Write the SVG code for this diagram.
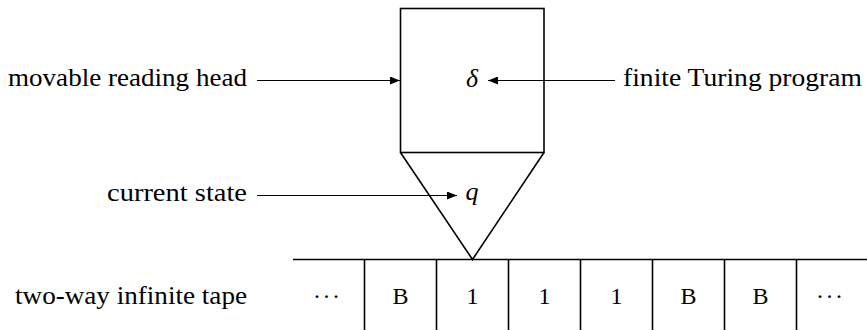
<svg xmlns="http://www.w3.org/2000/svg" width="867" height="330" viewBox="0 0 867 330">
<style>
.lbl{font-family:"Liberation Serif","Times New Roman",serif;font-size:26px;fill:#000}
.cell{font-family:"Liberation Serif","Times New Roman",serif;font-size:24px;fill:#000;text-anchor:middle}
.dots{font-family:"Liberation Serif","Times New Roman",serif;font-size:24px;fill:#000}
.math{font-family:"Liberation Serif","Times New Roman",serif;font-size:26px;font-style:italic;fill:#000;text-anchor:middle}
.thick{fill:none;stroke:#000;stroke-width:1.6}
.arr{fill:none;stroke:#000;stroke-width:1.1;marker-end:url(#ah)}
</style>
<defs>
<marker id="ah" viewBox="0 0 10 8" refX="10" refY="4" markerWidth="10" markerHeight="8" markerUnits="userSpaceOnUse" orient="auto">
<path d="M0,0 L10,4 L0,8 Z" fill="#000"/>
</marker>
</defs>
<rect width="867" height="330" fill="#fff"/>
<g id="head">
<rect class="thick" x="400.5" y="8.5" width="143.5" height="144"/>
<text class="math" x="472" y="87">δ</text>
</g>
<g id="state">
<path class="thick" d="M400.5,152.5 L472.5,259.5 L544,152.5"/>
<text class="math" x="472" y="200">q</text>
</g>
<g id="tape">
<path class="thick" d="M293,259.5 H867 M364.5,259.5 V330 M436.5,259.5 V330 M508.5,259.5 V330 M580.5,259.5 V330 M652.5,259.5 V330 M724.5,259.5 V330 M796.5,259.5 V330"/>
<text class="dots" x="313" y="303.5" textLength="27" lengthAdjust="spacing">· · ·</text>
<text class="cell" x="400.5" y="304">B</text>
<text class="cell" x="472.5" y="304">1</text>
<text class="cell" x="544.5" y="304">1</text>
<text class="cell" x="616.5" y="304">1</text>
<text class="cell" x="688.5" y="304">B</text>
<text class="cell" x="760.5" y="304">B</text>
<text class="dots" x="816" y="303.5" textLength="27" lengthAdjust="spacing">· · ·</text>
</g>
<g id="labels">
<text class="lbl" x="8" y="86" textLength="239" lengthAdjust="spacingAndGlyphs">movable reading head</text>
<text class="lbl" x="623" y="86" textLength="239" lengthAdjust="spacingAndGlyphs">finite Turing program</text>
<text class="lbl" x="107" y="201" textLength="140" lengthAdjust="spacingAndGlyphs">current state</text>
<text class="lbl" x="15" y="303.5" textLength="232" lengthAdjust="spacingAndGlyphs">two-way infinite tape</text>
</g>
<g id="connectors">
<line class="arr" x1="257" y1="80.5" x2="400" y2="80.5"/>
<line class="arr" x1="615" y1="80.5" x2="488" y2="80.5"/>
<line class="arr" x1="257" y1="195.5" x2="457" y2="195.5"/>
</g>
</svg>
